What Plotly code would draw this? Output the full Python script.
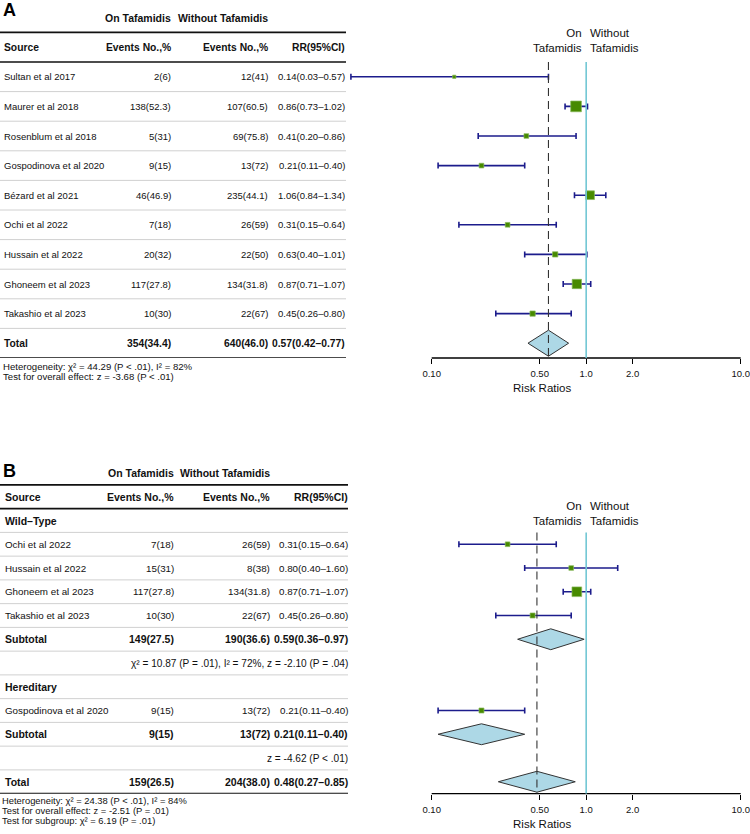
import plotly.graph_objects as go

# ---------------- data: panel A ----------------
studies_A = ["Sultan et al 2017", "Maurer et al 2018", "Rosenblum et al 2018",
             "Gospodinova et al 2020", "Bézard et al 2021", "Ochi et al 2022",
             "Hussain et al 2022", "Ghoneem et al 2023", "Takashio et al 2023"]
on_A = ["2(6)", "138(52.3)", "5(31)", "9(15)", "46(46.9)", "7(18)", "20(32)", "117(27.8)", "10(30)"]
without_A = ["12(41)", "107(60.5)", "69(75.8)", "13(72)", "235(44.1)", "26(59)", "22(50)", "134(31.8)", "22(67)"]
rr_A = [0.14, 0.86, 0.41, 0.21, 1.06, 0.31, 0.63, 0.87, 0.45]
lo_A = [0.03, 0.73, 0.20, 0.11, 0.84, 0.15, 0.40, 0.71, 0.26]
hi_A = [0.57, 1.02, 0.86, 0.40, 1.34, 0.64, 1.01, 1.07, 0.80]
weight_A = [5.8, 18.9, 8.3, 8.3, 15.3, 8.3, 9.3, 16.4, 9.3]
total_on_A = "354(34.4)"
total_without_A = "640(46.0)"
total_rr_A, total_lo_A, total_hi_A = 0.57, 0.42, 0.77
foot_A = ["Heterogeneity: χ² = 44.29 (P < .01), I² = 82%",
          "Test for overall effect: z = -3.68 (P < .01)"]

# ---------------- data: panel B ----------------
wt_label = "Wild–Type"
wt_studies = ["Ochi et al 2022", "Hussain et al 2022", "Ghoneem et al 2023", "Takashio et al 2023"]
wt_on = ["7(18)", "15(31)", "117(27.8)", "10(30)"]
wt_without = ["26(59)", "8(38)", "134(31.8)", "22(67)"]
wt_rr = [0.31, 0.80, 0.87, 0.45]
wt_lo = [0.15, 0.40, 0.71, 0.26]
wt_hi = [0.64, 1.60, 1.07, 0.80]
wt_weight = [8.3, 8.3, 17.1, 8.8]
wt_sub_on, wt_sub_without = "149(27.5)", "190(36.6)"
wt_sub_rr, wt_sub_lo, wt_sub_hi = 0.59, 0.36, 0.97
wt_het = "χ² = 10.87 (P = .01), I² = 72%, z = -2.10 (P = .04)"

her_label = "Hereditary"
her_studies = ["Gospodinova et al 2020"]
her_on = ["9(15)"]
her_without = ["13(72)"]
her_rr = [0.21]
her_lo = [0.11]
her_hi = [0.40]
her_weight = [8.8]
her_sub_on, her_sub_without = "9(15)", "13(72)"
her_sub_rr, her_sub_lo, her_sub_hi = 0.21, 0.11, 0.40
her_het = "z = -4.62 (P < .01)"

total_on_B = "159(26.5)"
total_without_B = "204(38.0)"
total_rr_B, total_lo_B, total_hi_B = 0.48, 0.27, 0.85
foot_B = ["Heterogeneity: χ² = 24.38 (P < .01), I² = 84%",
          "Test for overall effect: z = -2.51 (P = .01)",
          "Test for subgroup: χ² = 6.19 (P = .01)"]

tick_vals = [0.1, 0.5, 1.0, 2.0, 10.0]
tick_text = ["0.10", "0.50", "1.0", "2.0", "10.0"]
group_title = ["On Tafamidis", "Without Tafamidis"]
header = ["Source", "Events No.,%", "Events No.,%", "RR(95%CI)"]

# ---------------- styling ----------------
W, H = 750, 834
FONT = "Liberation Sans, Arial, Helvetica, sans-serif"
TXT = "#111111"
SQ_FILL = "#478a00"
SQ_EDGE = "#86b85a"
CI_COL = "#1c1c8c"
REF_COL = "#72c7d4"
DIA_FILL = "#add8e6"
SEP_COL = "#d0d0d0"
SQ_SCALE = 0.567
DIA_H = 0.44
XDOM = [339 / W, 745.3 / W]
XRANGE = [-1.6, 1.03]


def fmt_rr(r, l, h):
    return f"{r:.2f}({l:.2f}–{h:.2f})"


def py(p):
    return 1 - p / H


fig = go.Figure()
annotations = []
shapes = []


def panel(yname, xname, y0pix, step, top_pix, rows, cols, line_end, fs, fs_b, fs_t,
          estimates, diamonds, dash_x, ref_top, onlabel_y):
    """rows: list of (idx, kind, cells)"""
    yref = yname
    last = max(r[0] for r in rows)
    bottom_idx = last + 0.5
    bottom_pix = y0pix + step * bottom_idx
    top_idx = -(y0pix - top_pix) / step
    ykey = "yaxis" + yname[1:]
    xkey = "xaxis" + xname[1:]
    fig.update_layout(**{
        ykey: dict(domain=[py(bottom_pix), py(top_pix)], range=[bottom_idx, top_idx],
                   showgrid=False, zeroline=False, showticklabels=False, showline=False,
                   anchor=xname, fixedrange=True, automargin=False),
        xkey: dict(domain=XDOM, range=XRANGE, type="log", anchor=yname, automargin=False,
                   tickvals=tick_vals, ticktext=tick_text, ticks="outside", ticklen=5,
                   tickwidth=1.3, tickcolor="#000", showgrid=False, zeroline=False,
                   showline=False, ticklabelstandoff=2, fixedrange=True,
                   tickfont=dict(size=9.5, color=TXT, family=FONT),
                   title=dict(text="Risk Ratios", font=dict(size=11.5, color=TXT, family=FONT),
                              standoff=5)),
    })
    src_x, c1, c2, c3 = cols

    def add(text, x, y, anchor, size, bold=False):
        annotations.append(dict(text=f"<b>{text}</b>" if bold else text, x=x / W, y=y,
                                xref="paper", yref=yref, xanchor=anchor, yanchor="middle",
                                showarrow=False, font=dict(size=size, color=TXT, family=FONT)))

    # group title and header
    add(group_title[0], c1, -2, "right", fs_t, True)
    add(group_title[1], c2, -2, "right", fs_t, True)
    add(header[0], src_x, -1, "left", fs_b, True)
    add(header[1], c1, -1, "right", fs_b, True)
    add(header[2], c2, -1, "right", fs_b, True)
    add(header[3], c3, -1, "right", fs_b, True)
    for y in (-1.5, -0.5):
        shapes.append(dict(type="line", xref="paper", yref=yref, x0=0, x1=line_end / W,
                           y0=y, y1=y, line=dict(color="#111", width=1.7)))
    shapes.append(dict(type="line", xref="paper", yref=yref, x0=0, x1=line_end / W,
                       y0=bottom_idx, y1=bottom_idx, line=dict(color="#111", width=1.7)))
    for idx, kind, cells in rows:
        if kind == "study":
            add(cells[0], src_x, idx, "left", fs)
            add(cells[1], c1, idx, "right", fs)
            add(cells[2], c2, idx, "right", fs)
            add(cells[3], c3, idx, "right", fs)
        elif kind == "bold":
            add(cells[0], src_x, idx, "left", fs_b, True)
            add(cells[1], c1, idx, "right", fs_b, True)
            add(cells[2], c2, idx, "right", fs_b, True)
            add(cells[3], c3, idx, "right", fs_b, True)
        elif kind == "group":
            add(cells[0], src_x, idx, "left", fs_b, True)
        elif kind == "note":
            add(cells[0], c3, idx, "right", fs + 0.3)
        if idx < last:
            shapes.append(dict(type="line", xref="paper", yref=yref, x0=0, x1=line_end / W,
                               y0=idx + 0.5, y1=idx + 0.5, line=dict(color=SEP_COL, width=1)))

    # forest: axis line
    shapes.append(dict(type="line", xref=xname, yref=yname + " domain", x0=tick_vals[0],
                       x1=tick_vals[-1], y0=0, y1=0, line=dict(color="#000", width=1.3)))
    # reference lines
    shapes.append(dict(type="line", xref=xname, yref=yname, x0=1, x1=1, y0=ref_top,
                       y1=bottom_idx, line=dict(color=REF_COL, width=1.6), layer="above"))
    shapes.append(dict(type="line", xref=xname, yref=yname, x0=dash_x, x1=dash_x, y0=ref_top,
                       y1=bottom_idx, line=dict(color="#333", width=1.1, dash="8px,5px"),
                       layer="above"))
    annotations.append(dict(text="On<br>Tafamidis", x=0, y=onlabel_y, xref=xname, yref=yname,
                            xanchor="right", yanchor="middle", xshift=-2, align="right",
                            showarrow=False, font=dict(size=11.5, color=TXT, family=FONT)))
    annotations.append(dict(text="Without<br>Tafamidis", x=0, y=onlabel_y, xref=xname,
                            yref=yname, xanchor="left", yanchor="middle", xshift=2,
                            align="left", showarrow=False,
                            font=dict(size=11.5, color=TXT, family=FONT)))

    ys, rs, ls, hs, ws = estimates
    fig.add_trace(go.Scatter(
        x=rs, y=ys, xaxis=xname, yaxis=yname, mode="markers", showlegend=False,
        hoverinfo="skip",
        marker=dict(symbol="square", size=[w * SQ_SCALE for w in ws], color=SQ_FILL,
                    opacity=1, line=dict(color=SQ_EDGE, width=0.7)),
        error_x=dict(type="data", symmetric=False,
                     array=[h - r for r, h in zip(rs, hs)],
                     arrayminus=[r - l for r, l in zip(rs, ls)],
                     color=CI_COL, thickness=1.6, width=3)))
    for (y, r, l, h) in diamonds:
        fig.add_trace(go.Scatter(
            x=[l, r, h, r, l], y=[y, y - DIA_H, y, y + DIA_H, y], xaxis=xname, yaxis=yname,
            mode="lines", fill="toself", fillcolor=DIA_FILL, showlegend=False,
            hoverinfo="skip", line=dict(color="#333", width=1)))
    return bottom_pix


# ---- Panel A rows ----
rows_A = []
for i, s in enumerate(studies_A):
    rows_A.append((i, "study", [s, on_A[i], without_A[i], fmt_rr(rr_A[i], lo_A[i], hi_A[i])]))
iA_total = len(studies_A)
rows_A.append((iA_total, "bold", ["Total", total_on_A, total_without_A,
                                  fmt_rr(total_rr_A, total_lo_A, total_hi_A)]))
estA = (list(range(len(studies_A))), rr_A, lo_A, hi_A, weight_A)
diaA = [(iA_total, total_rr_A, total_lo_A, total_hi_A)]
bottomA = panel("y", "x", 76.8, 29.6, 0, rows_A, (1.5, 173, 270, 347), 346, 9.5, 10.3, 10.5,
                estA, diaA, total_rr_A, -0.5, -1.22)

# ---- Panel B rows ----
rows_B = []
k = 0
rows_B.append((k, "group", [wt_label])); k += 1
est_y, est_r, est_l, est_h, est_w = [], [], [], [], []
first_study_B = k
for j, s in enumerate(wt_studies):
    rows_B.append((k, "study", [s, wt_on[j], wt_without[j], fmt_rr(wt_rr[j], wt_lo[j], wt_hi[j])]))
    est_y.append(k); est_r.append(wt_rr[j]); est_l.append(wt_lo[j]); est_h.append(wt_hi[j])
    est_w.append(wt_weight[j]); k += 1
k_wt_sub = k
rows_B.append((k, "bold", ["Subtotal", wt_sub_on, wt_sub_without,
                           fmt_rr(wt_sub_rr, wt_sub_lo, wt_sub_hi)])); k += 1
rows_B.append((k, "note", [wt_het])); k += 1
rows_B.append((k, "group", [her_label])); k += 1
for j, s in enumerate(her_studies):
    rows_B.append((k, "study", [s, her_on[j], her_without[j],
                                fmt_rr(her_rr[j], her_lo[j], her_hi[j])]))
    est_y.append(k); est_r.append(her_rr[j]); est_l.append(her_lo[j]); est_h.append(her_hi[j])
    est_w.append(her_weight[j]); k += 1
k_her_sub = k
rows_B.append((k, "bold", ["Subtotal", her_sub_on, her_sub_without,
                           fmt_rr(her_sub_rr, her_sub_lo, her_sub_hi)])); k += 1
rows_B.append((k, "note", [her_het])); k += 1
k_total = k
rows_B.append((k, "bold", ["Total", total_on_B, total_without_B,
                           fmt_rr(total_rr_B, total_lo_B, total_hi_B)]))
estB = (est_y, est_r, est_l, est_h, est_w)
diaB = [(k_wt_sub, wt_sub_rr, wt_sub_lo, wt_sub_hi),
        (k_her_sub, her_sub_rr, her_sub_lo, her_sub_hi),
        (k_total, total_rr_B, total_lo_B, total_hi_B)]
bottomB = panel("y2", "x2", 520.5, 23.75, 430, rows_B, (3, 175.5, 271.5, 350), 348, 9.8, 10.5,
                10.5, estB, diaB, total_rr_B, first_study_B - 0.5, -0.28)

# panel labels and footnotes
for lab, ypix in (("A", 10), ("B", 471)):
    annotations.append(dict(text=f"<b>{lab}</b>", x=1 / W, y=py(ypix), xref="paper",
                            yref="paper", xanchor="left", yanchor="middle", showarrow=False,
                            font=dict(size=18, color="#000", family=FONT)))
for j, t in enumerate(foot_A):
    annotations.append(dict(text=t, x=1 / W, y=py(bottomA + 9 + 9.8 * j), xref="paper",
                            yref="paper", xanchor="left", yanchor="middle", showarrow=False,
                            font=dict(size=9.6, color=TXT, family=FONT)))
for j, t in enumerate(foot_B):
    annotations.append(dict(text=t, x=1 / W, y=py(bottomB + 7 + 9.9 * j), xref="paper",
                            yref="paper", xanchor="left", yanchor="middle", showarrow=False,
                            borderpad=0, font=dict(size=9.4, color=TXT, family=FONT)))

fig.update_layout(width=W, height=H, margin=dict(l=0, r=0, t=0, b=0, autoexpand=False),
                  paper_bgcolor="white", plot_bgcolor="white",
                  annotations=annotations, shapes=shapes,
                  font=dict(family=FONT, color=TXT))
fig.write_html("out.html", config={"displayModeBar": False},
               post_script="document.body.style.margin='0px';document.body.style.overflow='hidden';")
